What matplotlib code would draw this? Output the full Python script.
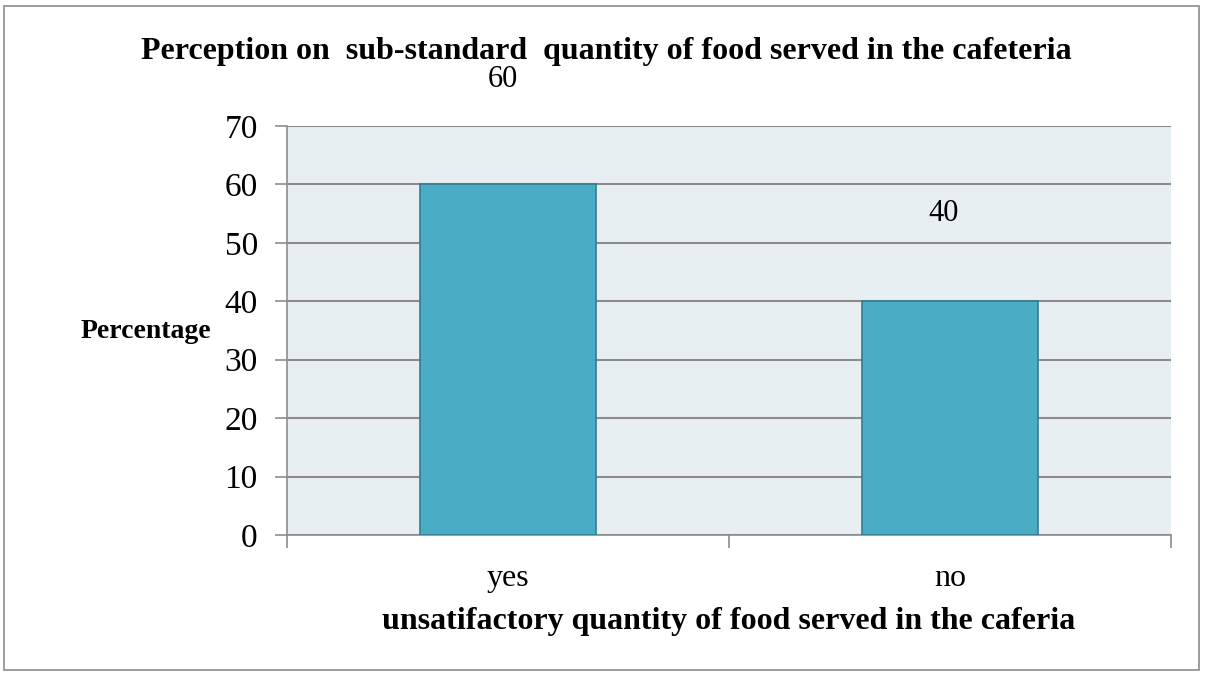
import matplotlib.pyplot as plt
from matplotlib.patches import Rectangle

categories = ["yes", "no"]
percentages = [60, 40]
# where the (hand-moved) data labels sit, relative to the bar top
label_dy = [18, 15]
label_dx = [-0.012, -0.014]

plt.rcParams["font.family"] = ["Liberation Serif", "DejaVu Serif"]

fig = plt.figure(figsize=(12.07, 6.73), dpi=100)
ax = fig.add_axes([287 / 1207, 1 - 535 / 673, 884 / 1207, 409 / 673])

# figure border
fig.patches.append(Rectangle((4 / 1207, 3 / 673), 1195 / 1207, 664 / 673,
                             transform=fig.transFigure, fill=False,
                             edgecolor="#8c8c8c", linewidth=1.2))

x = list(range(len(categories)))
ax.bar(x, percentages, width=0.4, color="#4bacc6", edgecolor="#357d91",
       linewidth=1.2, zorder=3)

for xi, v, dx, dy in zip(x, percentages, label_dx, label_dy):
    ax.text(xi + dx, v + dy, str(v), ha="center", va="center",
            fontsize=22, clip_on=False)

ax.set_xlim(-0.5, 1.5)
ax.set_ylim(0, 70)
ax.set_yticks(range(0, 71, 10))
ax.set_xticks([-0.5, 0.5, 1.5])
ax.set_xticklabels([])
ax.set_xticks(x, minor=True)
ax.set_xticklabels(categories, minor=True, fontsize=23)
ax.tick_params(axis="x", which="minor", length=0, pad=21)
ax.tick_params(axis="x", which="major", length=9, color="#8c8c8c", width=1.2)
ax.tick_params(axis="y", length=9, color="#8c8c8c", width=1.2, labelsize=24, pad=12)

ax.set_facecolor("#e8eff3")
ax.yaxis.grid(True, color="#8c8c8c", linewidth=1.5, zorder=0)
ax.set_axisbelow(True)
for side in ["top", "right"]:
    ax.spines[side].set_visible(False)
for side in ["left", "bottom"]:
    ax.spines[side].set_color("#8c8c8c")
    ax.spines[side].set_linewidth(1.2)

fig.text(606 / 1207, 1 - 52 / 673, "Perception on  sub-standard  quantity of food served in the cafeteria",
         ha="center", va="center", fontsize=23, fontweight="bold")
fig.text(146 / 1207, 1 - 331 / 673, "Percentage", ha="center", va="center",
         fontsize=20, fontweight="bold")
fig.text(729 / 1207, 1 - 621 / 673, "unsatifactory quantity of food served in the caferia",
         ha="center", va="center", fontsize=23, fontweight="bold")

plt.savefig("out.png", dpi=100)
